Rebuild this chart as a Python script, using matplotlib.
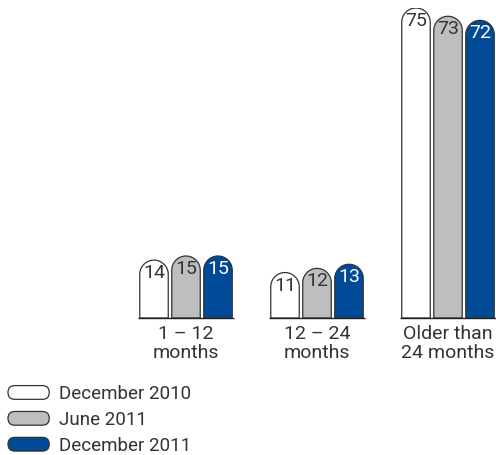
import numpy as np
import matplotlib
matplotlib.use("Agg")
import matplotlib.pyplot as plt
from matplotlib.path import Path
from matplotlib.patches import PathPatch, FancyBboxPatch
from matplotlib.legend_handler import HandlerPatch

plt.rcParams['font.family'] = ['Roboto', 'DejaVu Sans']

categories = ["1 \u2013 12\nmonths", "12 \u2013 24\nmonths", "Older than\n24 months"]
series = ["December 2010", "June 2011", "December 2011"]
dec_2010 = [14, 11, 75]
jun_2011 = [15, 12, 73]
dec_2011 = [15, 13, 72]
values = [dec_2010, jun_2011, dec_2011]

fills = ["#ffffff", "#bcbec0", "#004a97"]
text_colors = ["#333333", "#333333", "#ffffff"]
edge = "#333333"

W, H = 496, 455
fig = plt.figure(figsize=(W / 100, H / 100), dpi=100)
# axes in pixel geometry: baseline at y=318, value 75 at y=8
ax = fig.add_axes([0, (H - 318) / H, 1, 310 / H])
group_px = 131.0
x0_px = 186.0
ax.set_xlim(-x0_px / group_px, (W - x0_px) / group_px)
ax.set_ylim(0, 75)
ax.axis("off")

px_y = 310 / 75.0          # pixels per unit in y
offset = 32 / group_px
width = 28.5 / group_px
ry = (width * group_px / 2) / px_y   # semicircle radius in y data units


def rounded_bar(xc, h):
    x0, x1 = xc - width / 2, xc + width / 2
    rx = width / 2
    t = np.linspace(np.pi, 0, 40)
    arc_x = xc + rx * np.cos(t)
    arc_y = (h - ry) + ry * np.sin(t)
    verts = [(x0, 0)] + list(zip(arc_x, arc_y)) + [(x1, 0), (x0, 0)]
    codes = [Path.MOVETO] + [Path.LINETO] * (len(verts) - 2) + [Path.CLOSEPOLY]
    return Path(verts, codes)


x = np.arange(len(categories))
for i, vals in enumerate(values):
    for g, v in enumerate(vals):
        xc = x[g] + (i - 1) * offset
        ax.add_patch(PathPatch(rounded_bar(xc, v), facecolor=fills[i],
                               edgecolor=edge, lw=0.9))
        ax.text(xc, v - 13 / px_y, str(v), ha="center", va="center",
                fontsize=14, color=text_colors[i])

for g in x:
    ax.plot([g - 1.5 * offset, g + 1.5 * offset], [0, 0], color="#222222",
            lw=1, clip_on=False, solid_capstyle="butt")
    ax.text(g, -7 / px_y, categories[g], ha="center", va="top", fontsize=14,
            color="#333333", linespacing=1.05)


class RoundHandler(HandlerPatch):
    def create_artists(self, legend, orig_handle, xdescent, ydescent,
                       width, height, fontsize, trans):
        p = FancyBboxPatch((-xdescent, -ydescent), width, height,
                           boxstyle="round,pad=0,rounding_size=%f" % (height / 2),
                           facecolor=orig_handle.get_facecolor(),
                           edgecolor=edge, lw=0.9, transform=trans)
        return [p]


handles = [FancyBboxPatch((0, 0), 1, 1, facecolor=c) for c in fills]
leg = fig.legend(handles, series, loc="upper left",
                 bbox_to_anchor=(8 / W, (H - 385) / H), frameon=False,
                 prop={"size": 13.5},
                 handlelength=2.2, handleheight=0.75,
                 handletextpad=0.5, labelspacing=0.42, borderaxespad=0,
                 borderpad=0.0,
                 handler_map={FancyBboxPatch: RoundHandler()})
for t in leg.get_texts():
    t.set_color("#333333")

fig.savefig("out.png", dpi=100)
